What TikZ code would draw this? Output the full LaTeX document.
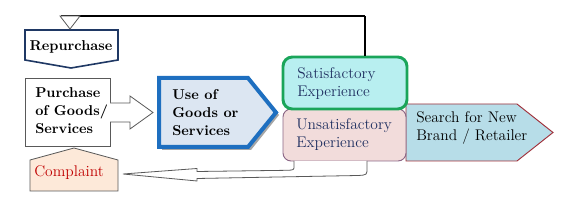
\documentclass[tikz,border=0pt]{standalone}
\usepackage{fontspec}
\definecolor{navyline}{HTML}{1F3864}
\definecolor{navytext}{HTML}{1F2F60}
\definecolor{useblue}{HTML}{1E6FC0}
\definecolor{usefill}{HTML}{DCE6F2}
\definecolor{satgreen}{HTML}{1AA55A}
\definecolor{satfill}{HTML}{B8EFF0}
\definecolor{unsatline}{HTML}{8A6585}
\definecolor{unsatfill}{HTML}{F2DCDB}
\definecolor{searchline}{HTML}{A0303A}
\definecolor{searchfill}{HTML}{B7DDE8}
\definecolor{compfill}{HTML}{FDE9D9}
\definecolor{compred}{HTML}{C00000}
\begin{document}
\begin{tikzpicture}[x=0.75pt, y=-0.75pt,
    lbl/.style={font=\fontsize{11.6}{13.5}\selectfont, align=left, inner sep=0pt, anchor=west},
    bld/.style={lbl, font=\fontsize{10.7}{13.5}\selectfont\bfseries},
    thinline/.style={draw=black!65, line width=0.6pt}]
    \useasboundingbox (0,0) rectangle (564,202);

    % Repurchase
    \draw[navyline, line width=1.2pt, fill=white] (25,30) -- (118,30) -- (118,60) -- (71,68) -- (25,60) -- cycle;
    \coordinate (repTop) at (70,29);
    \node[bld, anchor=center] (rep) at (71,47) {Repurchase};

    % Purchase of Goods
    \draw[thinline, fill=white] (25,78) rectangle (110,146);
    \node[bld] (pur) at (35,111) {Purchase\\of Goods/\\Services};

    % hollow arrow to Use of Goods
    \draw[thinline, fill=white] (110,103) -- (130,103) -- (130,96) -- (153,112.5) -- (130,129) -- (130,122) -- (110,122);

    % Use of Goods or Services
    \fill[black!35] (162,81) -- (251,81) -- (279,115) -- (251,150) -- (162,150) -- cycle;
    \draw[useblue, line width=3pt, fill=usefill] (159,78) -- (248,78) -- (276,112.5) -- (248,147) -- (159,147) -- cycle;
    \node[bld] (use) at (172,113) {Use of\\Goods or\\Services};

    % Search for New Brand
    \draw[searchline, line width=0.7pt, fill=searchfill] (406,104) -- (517,104) -- (553,132.5) -- (517,161) -- (406,161) -- cycle;
    \node[lbl] (search) at (416,128) {Search for New\\Brand / Retailer};

    % Unsatisfactory
    \draw[unsatline, line width=0.7pt, fill=unsatfill, rounded corners=6pt] (283,109) rectangle (406,161);
    \node[lbl, text=navytext] (unsat) at (296,135) {Unsatisfactory\\Experience};

    % Satisfactory
    \draw[satgreen, line width=2.2pt, fill=satfill, rounded corners=7pt] (283,57) rectangle (407,109);
    \node[lbl, text=navytext] (sat) at (297,84) {Satisfactory\\Experience};
    \coordinate (satTop) at (365,56);

    % Complaint
    \draw[thinline, fill=compfill] (30,191) -- (30,160) -- (74,148) -- (118,160) -- (118,191) -- cycle;
    \node[lbl, anchor=center, text=compred] (comp) at (69,173) {Complaint};

    % back to Repurchase
    \coordinate (turn) at (365,16);
    \draw[line width=2.2pt] (satTop) -- (turn);
    \draw[line width=1.1pt] (turn) -- (61,16);
    \draw[thinline, fill=white] (60,16) -- (80,16) -- (repTop) -- cycle;

    % curved arrow to Complaint
    \draw[thinline, fill=white] (294,161) -- (294,166) .. controls (294,170) .. (287,170.3) -- (197,171.5) -- (197,168.5)
        -- (123,174) -- (197,181) -- (197,178.5) -- (358,175.5) .. controls (367,175) .. (367,168) -- (367,161);
\end{tikzpicture}
\end{document}
